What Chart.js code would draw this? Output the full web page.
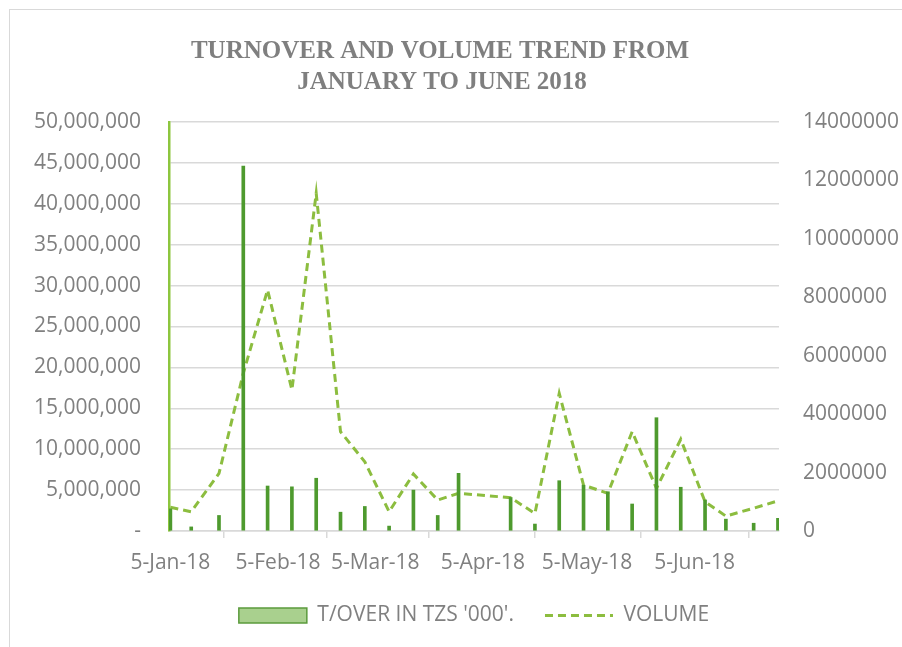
<!DOCTYPE html>
<html>
<head>
<meta charset="utf-8">
<title>Turnover and volume trend</title>
<script src="https://cdn.jsdelivr.net/npm/chart.js@4.4.1/dist/chart.umd.min.js"></script>
<style>
  body { margin: 0; background: #fff; overflow: hidden; }
  #frame { position: absolute; left: 9px; top: 9px; width: 1000px; height: 1000px; border: 1.5px solid #d9d9d9; }
  #chart { position: absolute; left: 0; top: 0; }
</style>
</head>
<body>
<div id="frame"></div>
<canvas id="chart" width="902" height="647"></canvas>
<script>
// weekly trading dates
const dates = [
  '2018-01-05', '2018-01-11', '2018-01-19', '2018-01-26', '2018-02-02', '2018-02-09',
  '2018-02-16', '2018-02-23', '2018-03-02', '2018-03-09', '2018-03-16', '2018-03-23',
  '2018-03-29', '2018-04-13', '2018-04-20', '2018-04-27', '2018-05-04', '2018-05-11',
  '2018-05-18', '2018-05-25', '2018-06-01', '2018-06-08', '2018-06-14', '2018-06-22',
  '2018-06-29'
];
const turnover = [
  2700000, 500000, 1900000, 44600000, 5500000, 5400000,
  6450000, 2300000, 3000000, 600000, 5000000, 1900000,
  7050000, 4100000, 850000, 6150000, 5600000, 4800000,
  3300000, 13850000, 5350000, 3800000, 1450000, 950000,
  1550000
];
const volume = [
  810000, 660000, 1970000, 5400000, 8250000, 4830000,
  11560000, 3400000, 2370000, 660000, 1950000, 1060000,
  1290000, 1140000, 600000, 4710000, 1570000, 1290000,
  3400000, 1460000, 3140000, 1000000, 510000, 780000,
  1030000
];
const tickDates = ['2018-01-05', '2018-02-05', '2018-03-05', '2018-04-05', '2018-05-05', '2018-06-05'];
const tickLabels = ['5-Jan-18', '5-Feb-18', '5-Mar-18', '5-Apr-18', '5-May-18', '5-Jun-18'];
const seriesNames = ["T/OVER IN TZS '000'.", 'VOLUME'];
const titleLines = ['TURNOVER AND VOLUME TREND FROM', 'JANUARY TO JUNE 2018'];

// days since first date, so the x axis behaves like a date axis
const start = Date.parse(dates[0]);
function dayOf(d) { return Math.round((Date.parse(d) - start) / 86400000); }
const tickDays = tickDates.map(dayOf);

const grey = '#808080';
const axisFont = { family: '"Open Sans", sans-serif', size: 21 };

const titlePlugin = {
  id: 'twoLineTitle',
  afterDraw(chart) {
    const ctx = chart.ctx;
    ctx.save();
    ctx.font = 'bold 25px "Liberation Serif", serif';
    ctx.fillStyle = '#7f7f7f';
    ctx.textAlign = 'center';
    ctx.fillText(titleLines[0], 440, 52);
    ctx.fillText(titleLines[1], 442, 83);
    ctx.restore();
  }
};

new Chart(document.getElementById('chart'), {
  type: 'bar',
  data: {
    datasets: [{
      label: seriesNames[0],
      data: dates.map((d, i) => ({ x: dayOf(d), y: turnover[i] })),
      backgroundColor: '#4e9a2e',
      barThickness: 3,
      yAxisID: 'y',
      order: 0
    }, {
      type: 'line',
      label: seriesNames[1],
      data: dates.map((d, i) => ({ x: dayOf(d), y: volume[i] })),
      borderColor: '#8cbd3f',
      backgroundColor: '#8cbd3f',
      borderWidth: 3,
      borderDash: [8, 5],
      pointRadius: 0,
      tension: 0,
      fill: false,
      yAxisID: 'y1',
      order: 1
    }]
  },
  options: {
    responsive: false,
    animation: false,
    layout: { padding: { top: 122, bottom: 11 } },
    plugins: {
      title: { display: false },
      tooltip: { enabled: false },
      legend: {
        position: 'bottom',
        fullSize: false,
        labels: {
          color: grey,
          font: axisFont,
          usePointStyle: true,
          pointStyleWidth: 68,
          boxHeight: 15,
          padding: 31,
          generateLabels(chart) {
            const items = Chart.defaults.plugins.legend.labels.generateLabels(chart);
            items.forEach(item => {
              if (item.datasetIndex === 0) {
                item.pointStyle = 'rect';
                item.fillStyle = '#a9d08e';
                item.strokeStyle = '#5b9b3c';
                item.lineWidth = 1.5;
              } else {
                item.pointStyle = 'line';
                item.strokeStyle = '#8cbd3f';
                item.lineWidth = 3;
                item.lineDash = [8, 5];
              }
            });
            return items;
          }
        }
      }
    },
    scales: {
      x: {
        type: 'linear',
        offset: false,
        min: -0.4,
        max: 175.3,
        afterBuildTicks(scale) { scale.ticks = tickDays.map(v => ({ value: v })); },
        afterFit(scale) { scale.height = 43; scale.paddingLeft = 0; scale.paddingRight = 0; },
        grid: { drawOnChartArea: false, drawTicks: true, tickLength: 7, color: '#d9d9d9', lineWidth: 1.5 },
        border: { color: '#d9d9d9', width: 1.5 },
        ticks: {
          autoSkip: false,
          maxRotation: 0,
          padding: 12,
          color: grey,
          font: axisFont,
          callback: (v) => tickLabels[tickDays.indexOf(v)]
        }
      },
      y: {
        position: 'left',
        min: 0,
        max: 50000000,
        afterFit(scale) { scale.width = 169; scale.paddingTop = 0; scale.paddingBottom = 0; },
        grid: { color: '#d9d9d9', lineWidth: 1.5, drawTicks: false },
        border: { color: '#8dc63f', width: 2.5 },
        ticks: {
          stepSize: 5000000,
          padding: 28,
          color: grey,
          font: axisFont,
          callback: (v) => v === 0 ? '-' : v.toLocaleString('en-US')
        }
      },
      y1: {
        position: 'right',
        min: 0,
        max: 14000000,
        afterFit(scale) { scale.width = 123; scale.paddingTop = 0; scale.paddingBottom = 0; },
        grid: { drawOnChartArea: false, drawTicks: false },
        border: { display: false },
        ticks: {
          stepSize: 2000000,
          padding: 24,
          color: grey,
          font: axisFont,
          callback: (v) => String(v)
        }
      }
    }
  },
  plugins: [titlePlugin]
});
</script>
</body>
</html>
